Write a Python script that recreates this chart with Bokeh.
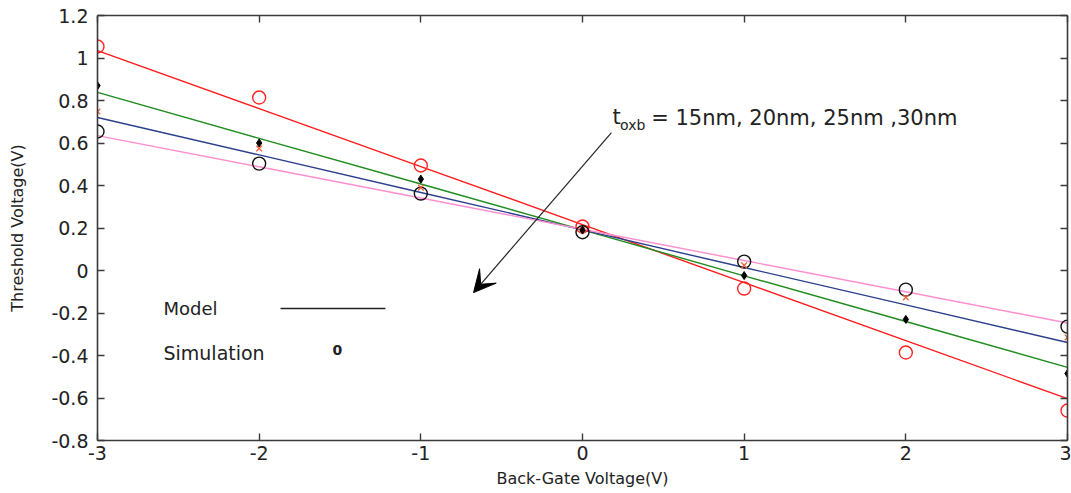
from bokeh.plotting import figure
from bokeh.models import (LinearAxis, FixedTicker, CustomJSTickFormatter, Label,
                          Arrow, VeeHead, Range1d)
from bokeh.embed import file_html
from bokeh.resources import INLINE

# ---- data ----
vbg = [-3, -2, -1, 0, 1, 2, 3]
# model lines (tox_b = 15, 20, 25, 30 nm)
model_15 = [1.035, 0.762, 0.489, 0.216, -0.057, -0.330, -0.603]
model_20 = [0.838, 0.622, 0.407, 0.191, -0.025, -0.240, -0.456]
model_25 = [0.720, 0.544, 0.367, 0.191, 0.014, -0.162, -0.339]
model_30 = [0.635, 0.488, 0.341, 0.194, 0.047, -0.100, -0.247]
# simulation points
sim_15 = [1.054, 0.814, 0.494, 0.207, -0.085, -0.386, -0.659]
sim_20 = [0.870, 0.600, 0.430, 0.190, -0.024, -0.230, -0.485]
sim_25 = [0.748, 0.574, 0.390, 0.190, 0.024, -0.127, -0.315]
sim_30 = [0.654, 0.503, 0.362, 0.180, 0.042, -0.090, -0.264]

x_ticks = [-3, -2, -1, 0, 1, 2, 3]
y_ticks = [-0.8, -0.6, -0.4, -0.2, 0, 0.2, 0.4, 0.6, 0.8, 1.0, 1.2]

FONT = "DejaVu Sans"
AX = "#3a3a3a"
TXT = "#222222"

p = figure(width=1071, height=493, output_backend="svg", toolbar_location=None,
           x_range=Range1d(-3, 3), y_range=Range1d(-0.8, 1.2),
           min_border_left=97, min_border_right=4, min_border_top=15,
           min_border_bottom=53, x_axis_location=None, y_axis_location=None)
p.xgrid.visible = False
p.ygrid.visible = False
p.outline_line_color = None
p.background_fill_color = "white"
p.border_fill_color = "white"

fmt = CustomJSTickFormatter(code="return String(Math.round(tick*10)/10);")

def style(ax, labels=True):
    ax.axis_line_color = AX
    ax.axis_line_width = 1.6
    ax.major_tick_line_color = AX
    ax.major_tick_line_width = 1.4
    ax.major_tick_in = 7
    ax.major_tick_out = 0
    ax.minor_tick_line_color = None
    ax.major_label_text_font = FONT
    ax.major_label_text_font_size = "19px"
    ax.major_label_text_color = TXT if labels else None
    ax.axis_label_text_font = FONT
    ax.axis_label_text_font_size = "16px"
    ax.axis_label_text_font_style = "normal"
    ax.axis_label_text_color = TXT
    ax.formatter = fmt

xb = LinearAxis(ticker=FixedTicker(ticks=x_ticks), axis_label="Back-Gate Voltage(V)")
style(xb)
xb.major_label_standoff = 5
xb.axis_label_standoff = 6
p.add_layout(xb, "below")

yl = LinearAxis(ticker=FixedTicker(ticks=y_ticks), axis_label="Threshold Voltage(V)")
style(yl)
yl.major_label_standoff = 9
yl.axis_label_standoff = 21
p.add_layout(yl, "left")

xt = LinearAxis(ticker=FixedTicker(ticks=x_ticks))
style(xt, labels=False)
xt.major_label_standoff = 0
p.add_layout(xt, "above")

yr = LinearAxis(ticker=FixedTicker(ticks=y_ticks))
style(yr, labels=False)
yr.major_label_standoff = 0
p.add_layout(yr, "right")

# model lines
p.line(vbg, model_15, line_color="#ff1a1a", line_width=1.4)
p.line(vbg, model_20, line_color="#1e8c1e", line_width=1.4)
p.line(vbg, model_25, line_color="#2b3f8c", line_width=1.4)
p.line(vbg, model_30, line_color="#ff8fcf", line_width=1.4)

# simulation markers
p.scatter(vbg, sim_15, marker="circle", size=13, fill_color=None,
          line_color="#ff2020", line_width=1.4)
p.scatter(vbg, sim_30, marker="circle", size=13, fill_color=None,
          line_color="#111111", line_width=1.4)
p.scatter(vbg, sim_25, marker="x", size=8, line_color="#f0603a", line_width=1.3)
p.scatter(vbg, sim_20, marker="diamond", size=8, fill_color="black",
          line_color="black")

# arrow and annotation
p.add_layout(Arrow(end=VeeHead(size=22, fill_color="black", line_color="black"),
                   x_start=0.179, y_start=0.649, x_end=-0.674, y_end=-0.104,
                   line_color=TXT, line_width=1.2))
p.add_layout(Label(x=0.185, y=0.722, text="t", text_font=FONT,
                   text_font_size="21px", text_color=TXT,
                   text_baseline="middle"))
p.add_layout(Label(x=0.232, y=0.686, text="oxb", text_font=FONT,
                   text_font_size="14px", text_color=TXT,
                   text_baseline="middle"))
p.add_layout(Label(x=0.425, y=0.720, text="= 15nm, 20nm, 25nm ,30nm",
                   text_font=FONT, text_font_size="21px", text_color=TXT,
                   text_baseline="middle"))

# legend-like annotations
p.add_layout(Label(x=-2.592, y=-0.179, text="Model", text_font=FONT,
                   text_font_size="18px", text_color=TXT,
                   text_baseline="middle"))
p.line([-1.868, -1.219], [-0.179, -0.179], line_color=TXT, line_width=1.4)
p.add_layout(Label(x=-2.592, y=-0.386, text="Simulation", text_font=FONT,
                   text_font_size="19px", text_color=TXT,
                   text_baseline="middle"))
p.add_layout(Label(x=-1.546, y=-0.376, text="0", text_font=FONT,
                   text_font_size="14px", text_font_style="bold",
                   text_color=TXT, text_baseline="middle"))

open("out.html", "w").write(file_html(p, INLINE))
